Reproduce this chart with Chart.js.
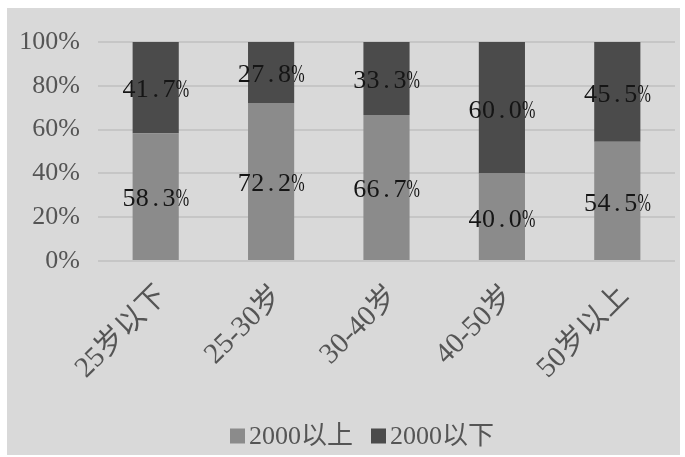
<!DOCTYPE html>
<html>
<head>
<meta charset="utf-8">
<script src="https://cdn.jsdelivr.net/npm/chart.js@4.4.1/dist/chart.umd.min.js"></script>
<style>
  html, body { margin: 0; padding: 0; background: #ffffff; }
  #wrap { position: absolute; left: 7px; top: 8px; width: 673px; height: 447px; background: #d9d9d9; }
</style>
</head>
<body>
<div id="wrap"><canvas id="c" width="673" height="447"></canvas></div>
<script>
// Income share by age group (percent of each group)
const categories = ['25岁以下', '25-30岁', '30-40岁', '40-50岁', '50岁以上'];
const seriesNames = ['2000以上', '2000以下'];
const above2000 = [58.3, 72.2, 66.7, 40.0, 54.5];
const below2000 = [41.7, 27.8, 33.3, 60.0, 45.5];
const yTicks = [0, 20, 40, 60, 80, 100];

const LATIN_CJK = "'Liberation Serif', 'Noto Sans CJK SC', serif";
const TEXT_GREY = '#555555';

// Draws a string in equal-width cells, like a fixed-pitch song typeface
function drawFixedPitch(ctx, text, cx, cy, cell) {
  const chars = [...text];
  let x = cx - (chars.length * cell) / 2;
  chars.forEach(ch => {
    const w = ctx.measureText(ch).width;
    const sx = w > cell ? cell / w : 1;
    ctx.save();
    ctx.translate(x + cell / 2, cy);
    ctx.scale(sx, 1);
    ctx.fillText(ch, 0, 0);
    ctx.restore();
    x += cell;
  });
}

// Writes each segment's value in the middle of its bar segment
const segmentLabels = {
  id: 'segmentLabels',
  afterDatasetsDraw(chart) {
    const ctx = chart.ctx;
    ctx.save();
    ctx.font = "26px 'Liberation Serif', serif";
    ctx.fillStyle = '#151515';
    ctx.textAlign = 'center';
    ctx.textBaseline = 'middle';
    chart.data.datasets.forEach((ds, di) => {
      chart.getDatasetMeta(di).data.forEach((bar, i) => {
        const v = ds.data[i];
        const top = Math.min(bar.y, bar.base);
        const bottom = Math.max(bar.y, bar.base);
        drawFixedPitch(ctx, v.toFixed(1) + '%', bar.x, (top + bottom) / 2 + 3, 13.4);
      });
    });
    ctx.restore();
  }
};

// Legend row under the axis: small square swatch right next to each series name
const bottomLegend = {
  id: 'bottomLegend',
  afterDraw(chart) {
    const ctx = chart.ctx;
    const box = 15, gapText = 4, gapItem = 18, size = 26;
    ctx.save();
    ctx.font = size + 'px ' + LATIN_CJK;
    ctx.textBaseline = 'middle';
    ctx.textAlign = 'left';
    const items = chart.data.datasets.map(ds => ({
      text: ds.label, color: ds.backgroundColor, w: ctx.measureText(ds.label).width
    }));
    const total = items.reduce((s, it) => s + box + gapText + it.w, 0) + gapItem * (items.length - 1);
    let x = 355 - total / 2;
    const cy = chart.height - 19;
    items.forEach(it => {
      ctx.fillStyle = it.color;
      ctx.fillRect(x, cy - box / 2, box, box);
      x += box + gapText;
      ctx.fillStyle = TEXT_GREY;
      ctx.fillText(it.text, x, cy + 1);
      x += it.w + gapItem;
    });
    ctx.restore();
  }
};

new Chart(document.getElementById('c'), {
  type: 'bar',
  data: {
    labels: categories,
    datasets: [
      { label: seriesNames[0], data: above2000, backgroundColor: '#8b8b8b', borderWidth: 0 },
      { label: seriesNames[1], data: below2000, backgroundColor: '#4b4b4b', borderWidth: 0 }
    ]
  },
  options: {
    responsive: false,
    animation: false,
    devicePixelRatio: 1,
    barPercentage: 0.8,
    categoryPercentage: 0.5,
    layout: { padding: { top: 34, right: 5, bottom: 34, left: 0 } },
    plugins: {
      tooltip: { enabled: false },
      legend: { display: false }
    },
    scales: {
      x: {
        stacked: true,
        grid: { display: false },
        border: { display: false },
        ticks: {
          font: { family: LATIN_CJK, size: 29 },
          color: TEXT_GREY,
          maxRotation: 45,
          minRotation: 45,
          padding: 10,
          labelOffset: 7
        },
        afterFit(scale) { scale.height = 160; }
      },
      y: {
        stacked: true,
        min: 0,
        max: 100,
        afterBuildTicks(scale) { scale.ticks = yTicks.map(v => ({ value: v })); },
        grid: { color: '#c6c6c6', lineWidth: 2, drawTicks: false },
        border: { display: false },
        ticks: {
          font: { family: LATIN_CJK, size: 26 },
          color: TEXT_GREY,
          padding: 18,
          callback: v => v + '%'
        },
        afterFit(scale) { scale.width = 91; }
      }
    }
  },
  plugins: [segmentLabels, bottomLegend]
});
</script>
</body>
</html>
